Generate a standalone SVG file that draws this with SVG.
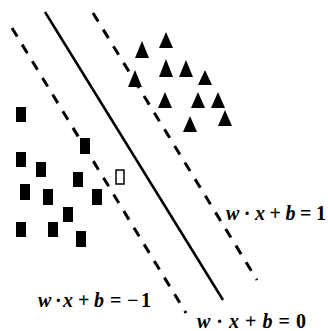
<svg xmlns="http://www.w3.org/2000/svg" width="328" height="331" viewBox="0 0 328 331">
<style>
.dash{stroke:#000;stroke-width:3;stroke-dasharray:10 9.5;fill:none}
.solid{stroke:#000;stroke-width:2.5;fill:none}
.sq{fill:#000}
.hollow{fill:#fff;stroke:#000;stroke-width:1.5}
.tri{fill:#000}
.lbl{font-family:"Liberation Serif",serif;font-size:20px;font-weight:bold;fill:#000}
.v{font-style:italic}
</style>
<rect width="328" height="331" fill="#fff"/>
<g id="connectors">
<line class="dash" x1="12" y1="28" x2="186" y2="313"/>
<line class="solid" x1="45" y1="12" x2="223" y2="300"/>
<line class="dash" x1="93" y1="13" x2="257" y2="280"/>
</g>
<g id="squares">
<rect class="sq" x="16" y="107" width="10" height="15"/>
<rect class="sq" x="16" y="152" width="10" height="15"/>
<rect class="sq" x="36" y="162" width="10" height="15"/>
<rect class="sq" x="20" y="184" width="10" height="16"/>
<rect class="sq" x="43" y="189" width="10" height="16"/>
<rect class="sq" x="73" y="172" width="10" height="15"/>
<rect class="sq" x="80" y="138" width="10" height="16"/>
<rect class="sq" x="92" y="189" width="10" height="16"/>
<rect class="sq" x="63" y="207" width="10" height="15"/>
<rect class="sq" x="16" y="222" width="10" height="15"/>
<rect class="sq" x="48" y="222" width="10" height="15"/>
<rect class="sq" x="76" y="231" width="10" height="16"/>
</g>
<g id="support-point">
<rect class="hollow" x="116" y="170" width="8" height="14"/>
</g>
<g id="triangles">
<polygon class="tri" points="166,32 173,48 159,48"/>
<polygon class="tri" points="142,41 149,58 135,58"/>
<polygon class="tri" points="166,59 173,77 159,77"/>
<polygon class="tri" points="186,60 193,77 179,77"/>
<polygon class="tri" points="205,70 212,85 198,85"/>
<polygon class="tri" points="135,70 142,87 128,87"/>
<polygon class="tri" points="165,92 172,108 158,108"/>
<polygon class="tri" points="198,92 205,108 191,108"/>
<polygon class="tri" points="218,92 225,108 211,108"/>
<polygon class="tri" points="190,116 197,132 183,132"/>
<polygon class="tri" points="225,110 232,126 218,126"/>
</g>
<g id="label-minus1">
<text class="lbl" y="307"><tspan class="v" x="38">w</tspan><tspan x="55">·</tspan><tspan class="v" x="63">x</tspan><tspan x="78">+</tspan><tspan class="v" x="94">b</tspan><tspan x="110">=</tspan><tspan x="127">−</tspan><tspan x="141">1</tspan></text>
</g>
<g id="label-0">
<text class="lbl" x="197" y="328" textLength="109" lengthAdjust="spacing"><tspan class="v">w</tspan>·<tspan class="v">x</tspan>+<tspan class="v">b</tspan>=0</text>
</g>
<g id="label-1">
<text class="lbl" x="226" y="220" textLength="100" lengthAdjust="spacing"><tspan class="v">w</tspan>·<tspan class="v">x</tspan>+<tspan class="v">b</tspan>=1</text>
</g>
</svg>
